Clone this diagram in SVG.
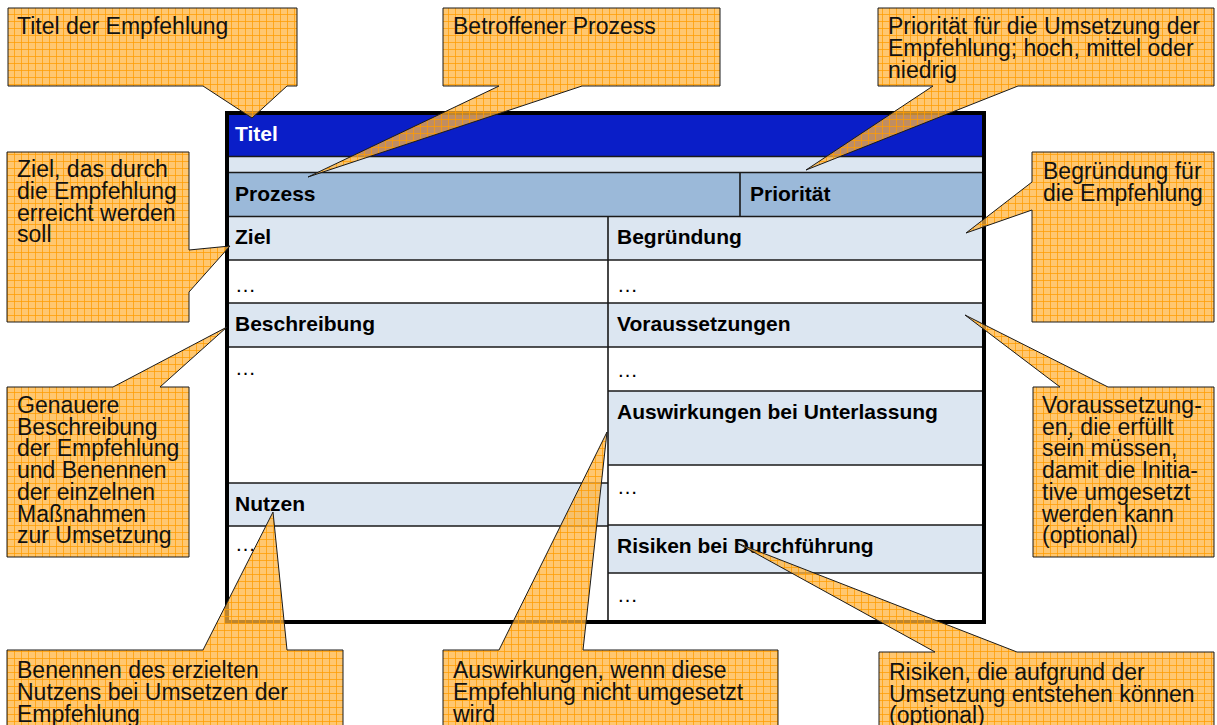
<svg xmlns="http://www.w3.org/2000/svg" width="1217" height="725" viewBox="0 0 1217 725">
<defs>
<pattern id="hatch" width="7" height="7" patternUnits="userSpaceOnUse">
<rect width="7" height="7" fill="#FFB43E" fill-opacity="0.74"/>
<path d="M0 0.5H7M0.5 0V7" stroke="#FF9C00" stroke-opacity="0.75" stroke-width="1"/>
</pattern>
<style>
.hd{font-family:"Liberation Sans",Arial,sans-serif;font-size:21px;font-weight:bold;fill:#000}
.wt{fill:#fff}
.el{font-family:"Liberation Sans",Arial,sans-serif;font-size:21px;fill:#000}
.ct{font-family:"Liberation Sans",Arial,sans-serif;font-size:23px;fill:#111}
.co{fill:url(#hatch);stroke:#1a1a1a;stroke-width:1;stroke-linejoin:miter}
.ln{stroke:#1a1a1a;stroke-width:1.6;fill:none}
.hc{fill:#DCE6F1}
</style>
</defs>
<rect width="1217" height="725" fill="#fff"/>

<g id="table">
<rect x="227" y="113" width="757" height="43" fill="#0A1EC8"/>
<rect x="227" y="156" width="757" height="17" class="hc"/>
<rect x="227" y="173" width="757" height="44" fill="#9BB9D9"/>
<rect x="227" y="217" width="757" height="43" class="hc"/>
<rect x="227" y="303" width="757" height="44" class="hc"/>
<rect x="608" y="391" width="376" height="74" class="hc"/>
<rect x="608" y="525" width="376" height="48" class="hc"/>
<rect x="227" y="483" width="381" height="43" class="hc"/>
<path class="ln" d="M227 156.5H984M227 172.5H984M227 216.5H984M227 260H984M227 303H984M227 347H984M608 391H984M608 465H984M608 525H984M608 573H984M227 483H608M227 526H608M740 173V216.5M608 216.5V622"/>
<rect x="227" y="113" width="757" height="509" fill="none" stroke="#000" stroke-width="4"/>
<text class="hd wt" x="235" y="141">Titel</text>
<text class="hd" x="235" y="201">Prozess</text>
<text class="hd" x="750" y="201">Priorität</text>
<text class="hd" x="235" y="244">Ziel</text>
<text class="hd" x="617" y="244">Begründung</text>
<text class="el" x="235" y="292">…</text>
<text class="el" x="617" y="292">…</text>
<text class="hd" x="235" y="331">Beschreibung</text>
<text class="hd" x="617" y="331">Voraussetzungen</text>
<text class="el" x="235" y="375">…</text>
<text class="el" x="617" y="377">…</text>
<text class="hd" x="617" y="419">Auswirkungen bei Unterlassung</text>
<text class="el" x="617" y="494">…</text>
<text class="hd" x="235" y="511">Nutzen</text>
<text class="el" x="235" y="551">…</text>
<text class="hd" x="617" y="553">Risiken bei Durchführung</text>
<text class="el" x="617" y="602">…</text>
</g>

<g id="connectors"></g>

<g id="callout-titel">
<polygon class="co" points="8,8 297,8 297,86 287,86 252,118 203,86 8,86"/>
<text class="ct" x="17" y="34">Titel der Empfehlung</text>
</g>

<g id="callout-prozess">
<polygon class="co" points="443,8 720,8 720,86 582,86 308,177 499,86 443,86"/>
<text class="ct" x="453" y="34">Betroffener Prozess</text>
</g>

<g id="callout-prioritaet">
<polygon class="co" points="878,8 1214,8 1214,86 1018,86 806,170 933,86 878,86"/>
<text class="ct" x="888" y="34">Priorität für die Umsetzung der</text>
<text class="ct" x="888" y="56">Empfehlung; hoch, mittel oder</text>
<text class="ct" x="888" y="78">niedrig</text>
</g>

<g id="callout-begruendung">
<polygon class="co" points="1032,152 1214,152 1214,322 1032,322 1032,210 966,233 1032,182"/>
<text class="ct" x="1043" y="179">Begründung für</text>
<text class="ct" x="1043" y="201">die Empfehlung</text>
</g>

<g id="callout-ziel">
<polygon class="co" points="7,152 189,152 189,250 230,246 189,292 189,322 7,322"/>
<text class="ct" x="17" y="177">Ziel, das durch</text>
<text class="ct" x="17" y="199">die Empfehlung</text>
<text class="ct" x="17" y="220.5">erreicht werden</text>
<text class="ct" x="17" y="242">soll</text>
</g>

<g id="callout-beschreibung">
<polygon class="co" points="7,387 113,387 227,327 160,387 189,387 189,557 7,557"/>
<text class="ct" x="17" y="413">Genauere</text>
<text class="ct" x="17" y="434.7">Beschreibung</text>
<text class="ct" x="17" y="456.4">der Empfehlung</text>
<text class="ct" x="17" y="478.1">und Benennen</text>
<text class="ct" x="17" y="499.8">der einzelnen</text>
<text class="ct" x="17" y="521.5">Maßnahmen</text>
<text class="ct" x="17" y="543.2">zur Umsetzung</text>
</g>

<g id="callout-voraussetzungen">
<polygon class="co" points="1033,387 1060,387 965,315 1108,387 1214,387 1214,557 1033,557"/>
<text class="ct" x="1042" y="413">Voraussetzung-</text>
<text class="ct" x="1042" y="434.7">en, die erfüllt</text>
<text class="ct" x="1042" y="456.4">sein müssen,</text>
<text class="ct" x="1042" y="478.1">damit die Initia-</text>
<text class="ct" x="1042" y="499.8">tive umgesetzt</text>
<text class="ct" x="1042" y="521.5">werden kann</text>
<text class="ct" x="1042" y="543.2">(optional)</text>
</g>

<g id="callout-nutzen">
<polygon class="co" points="7,650 203,650 273,512 287,650 343,650 343,735 7,735"/>
<text class="ct" x="17" y="678">Benennen des erzielten</text>
<text class="ct" x="17" y="700">Nutzens bei Umsetzen der</text>
<text class="ct" x="17" y="722">Empfehlung</text>
</g>

<g id="callout-auswirkungen">
<polygon class="co" points="443,650 499,650 607,432 583,650 778,650 778,735 443,735"/>
<text class="ct" x="453" y="678">Auswirkungen, wenn diese</text>
<text class="ct" x="453" y="700">Empfehlung nicht umgesetzt</text>
<text class="ct" x="453" y="722">wird</text>
</g>

<g id="callout-risiken">
<polygon class="co" points="879,652 935,652 737,543 1017,652 1214,652 1214,735 879,735"/>
<text class="ct" x="889" y="680">Risiken, die aufgrund der</text>
<text class="ct" x="889" y="701.5">Umsetzung entstehen können</text>
<text class="ct" x="889" y="723">(optional)</text>
</g>
</svg>
